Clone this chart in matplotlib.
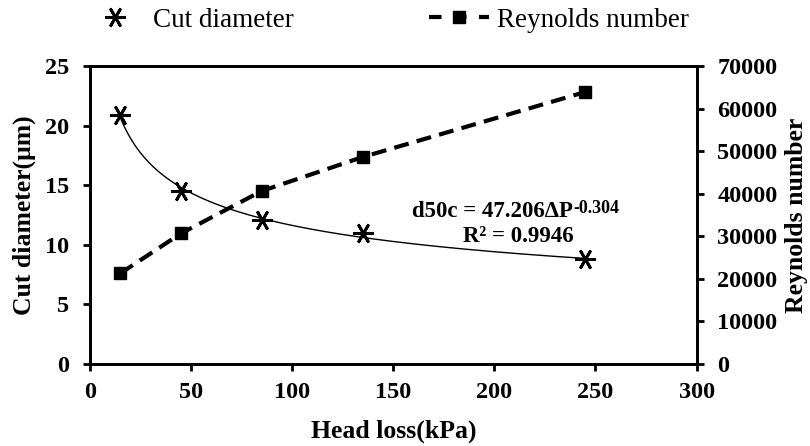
import numpy as np
import matplotlib
matplotlib.use('Agg')
from matplotlib import pyplot as plt
from matplotlib.lines import Line2D

plt.rcParams['font.family'] = ['Liberation Serif', 'DejaVu Serif']

# données
head_loss = [15, 45, 85, 135, 245]
cut_diameter = [20.9, 14.5, 12.1, 11.0, 8.8]
reynolds = [21300, 30700, 40700, 48700, 64000]

# coefficients de la courbe de tendance (affichés sur la figure)
fit_a = 47.206
fit_b = -0.304
fit_r2 = 0.9946

fig = plt.figure(figsize=(8.1, 4.46), dpi=100)
ax = fig.add_axes([0.111, 0.184, 0.749, 0.667])
ax2 = ax.twinx()

star = (6, 2, 90)

# courbe de tendance puissance
xf = np.linspace(min(head_loss), max(head_loss), 200)
ax.plot(xf, fit_a * xf ** fit_b, color='black', lw=1)
ax.plot(head_loss, cut_diameter, linestyle='none', marker=star, ms=15,
        mew=2, color='black')

ax2.plot(head_loss, reynolds, color='black', lw=3, dashes=(3.6, 2),
         marker='s', ms=9)

ax.set_xlim(0, 300)
ax.set_ylim(0, 25)
ax2.set_ylim(0, 70000)
ax.set_xticks(np.arange(0, 301, 50))
ax.set_yticks(np.arange(0, 26, 5))
ax2.set_yticks(np.arange(0, 70001, 10000))

for a in (ax, ax2):
    for s in a.spines.values():
        s.set_linewidth(2)
    a.tick_params(direction='out', length=5, width=2, labelsize=17.5)
    a.tick_params(axis='y', pad=10)
    a.tick_params(axis='x', pad=8)
    for lab in a.get_xticklabels() + a.get_yticklabels():
        lab.set_fontweight('bold')

ax.set_xlabel('Head loss(kPa)', fontsize=18.5, fontweight='bold', labelpad=12)
ax.set_ylabel('Cut diameter(μm)', fontsize=18.5, fontweight='bold', labelpad=6)
ax2.set_ylabel('Reynolds number', fontsize=18.5, fontweight='bold', labelpad=5)

t1 = ax.text(239, 12.8, 'd50c = 47.206ΔP', ha='right', va='center',
             fontsize=16.5, fontweight='bold')
ax.annotate('{:.3f}'.format(fit_b), xy=(1, 1.05), xycoords=t1,
            ha='left', va='top', fontsize=13, fontweight='bold')
ax.text(212, 10.7, 'R² = {:.4f}'.format(fit_r2), ha='center', va='center',
        fontsize=16.5, fontweight='bold')

h1 = Line2D([], [], linestyle='none', marker=star, ms=15, mew=2, color='black')
h2 = Line2D([], [], color='black', lw=3, dashes=(3, 3), marker='s', ms=9)
fig.legend([h1, h2], ['Cut diameter', 'Reynolds number'], ncol=2,
           loc='center', bbox_to_anchor=(0.478, 0.955), frameon=False,
           fontsize=19.5, handlelength=2.2, handletextpad=0.3,
           columnspacing=5.0)

fig.savefig('out.png', dpi=100)
